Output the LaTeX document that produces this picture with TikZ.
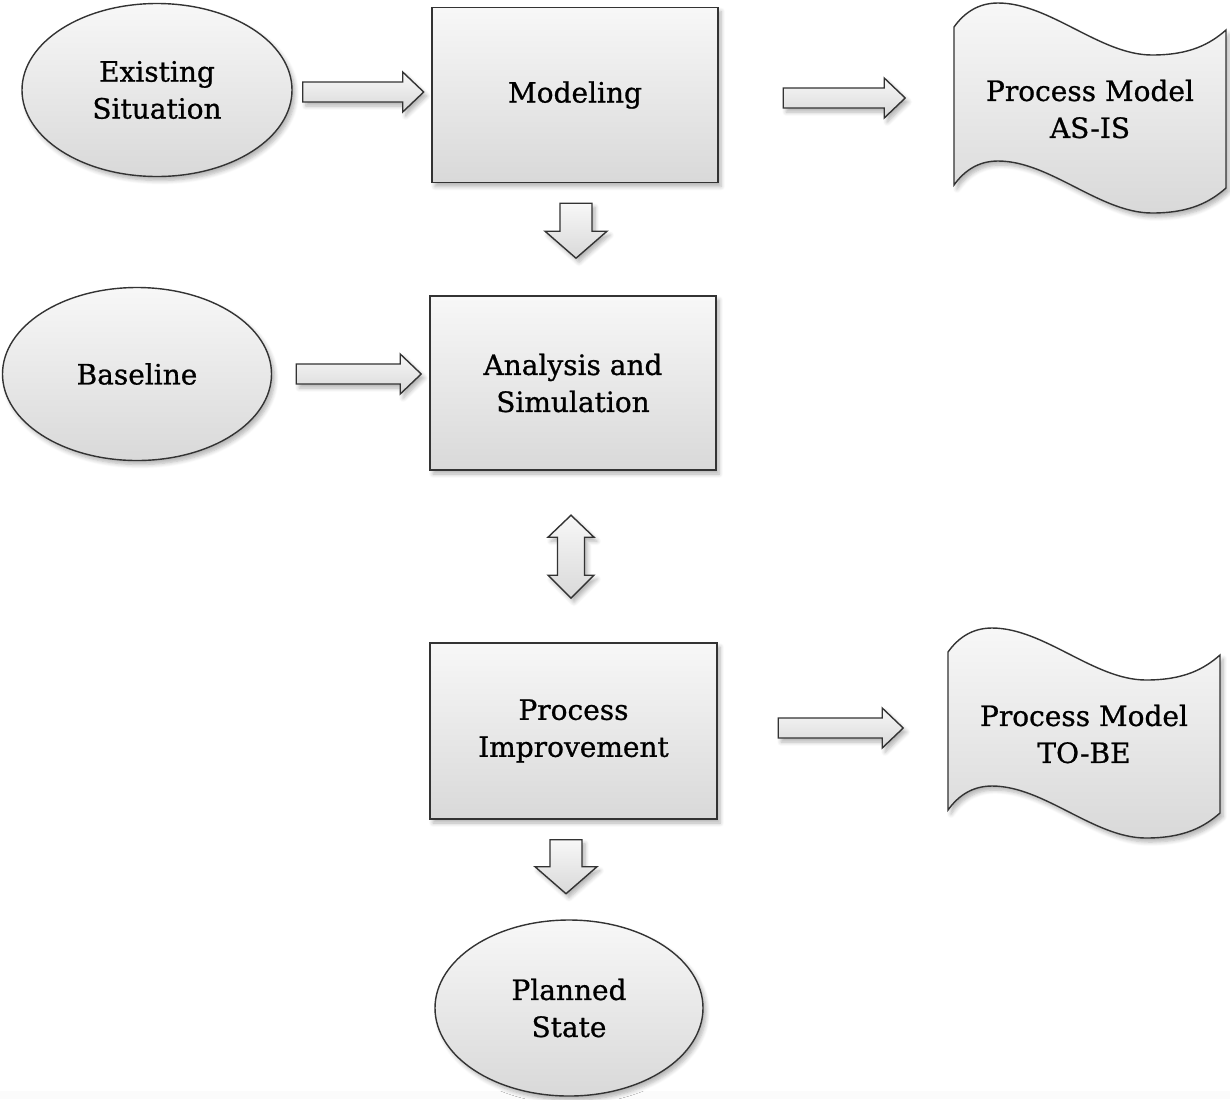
\documentclass[tikz,border=0pt]{standalone}
\usepackage{fontspec}
\setmainfont{DejaVu Serif}[FakeBold=0.8]
\usetikzlibrary{shapes.geometric,shadows.blur,calc}
\begin{document}
\begin{tikzpicture}[x=0.5pt,y=0.5pt,
  font=\fontsize{14}{18.5}\selectfont,
  shade3d/.style={top color=gray!6, bottom color=gray!30, draw=black!80, line width=0.7pt,
    blur shadow={shadow xshift=1.5pt, shadow yshift=-2pt, shadow blur steps=6, shadow opacity=30}},
  ovalnode/.style={ellipse, shade3d, align=center, inner sep=0pt},
  boxnode/.style={rectangle, shade3d, align=center, inner sep=0pt},
  txt/.style={align=center, inner sep=0pt},
  blockarr/.style={shade3d, line join=miter},
  pics/harrow/.style={code={
    \path[blockarr] (0,10) -- (#1-21,10) -- (#1-21,20) -- (#1,0) -- (#1-21,-20) -- (#1-21,-10) -- (0,-10) -- cycle;}},
  pics/varrow/.style={code={
    \path[blockarr] (-16,0) -- (16,0) -- (16,-#1+27) -- (31,-#1+27) -- (0,-#1) -- (-31,-#1+27) -- (-16,-#1+27) -- cycle;}},
  pics/dvarrow/.style={code={
    \path[blockarr] (0,0) -- (23,-22) -- (13.5,-22) -- (13.5,-#1+23) -- (23,-#1+23) -- (0,-#1) -- (-23,-#1+23) -- (-13.5,-#1+23) -- (-13.5,-22) -- (-23,-22) -- cycle;}},
  pics/docshape/.style={code={
    \path[shade3d] (-136,81) .. controls (-126,95) and (-112,105) .. (-92,105)
       .. controls (-40,105) and (10,53) .. (62,53)
       .. controls (100,53) and (120,64) .. (136,78)
       -- (136,-80) .. controls (120,-94) and (100,-105) .. (62,-105)
       .. controls (10,-105) and (-40,-53) .. (-92,-53)
       .. controls (-112,-53) and (-126,-63) .. (-136,-77) -- cycle;}}
]
\useasboundingbox (0,0) rectangle (1230,-1099);
\fill[gray!3] (0,-1091) rectangle (1230,-1099);

% nodes
\node[ovalnode, minimum width=135pt, minimum height=86.5pt] (ex) at (157,-90) {Existing\\Situation};
\node[boxnode, minimum width=143pt, minimum height=87.5pt] (mod) at (575,-95) {Modeling};
\pic at (1090,-108) {docshape};
\node[txt] (asis) at (1090,-109) {Process Model\\AS-IS};

\node[ovalnode, minimum width=134.5pt, minimum height=86.5pt] (bl) at (137,-374) {Baseline};
\node[boxnode, minimum width=143pt, minimum height=87pt] (ana) at (573,-383) {Analysis and\\Simulation};

\node[boxnode, minimum width=143.5pt, minimum height=88pt] (imp) at (573.5,-731) {Process\\Improvement};
\pic at (1084,-733) {docshape};
\node[txt] (tobe) at (1084,-734) {Process Model\\TO-BE};

\node[ovalnode, minimum width=134pt, minimum height=88pt] (pl) at (569,-1008) {Planned\\State};

% block arrows between nodes
\pic at ($(ex.east)+(10,-2)$) {harrow=121};
\pic at ($(mod.east)+(64.5,-3)$) {harrow=122};
\pic at ($(bl.east)+(24,0)$) {harrow=125};
\pic at ($(imp.east)+(60.5,3)$) {harrow=125};
\pic at ($(mod.south)+(1,-20)$) {varrow=55};
\pic at ($(imp.south)+(-7.5,-20)$) {varrow=54};
\pic at ($(ana.south)+(-2,-44.5)$) {dvarrow=83};
\end{tikzpicture}
\end{document}
